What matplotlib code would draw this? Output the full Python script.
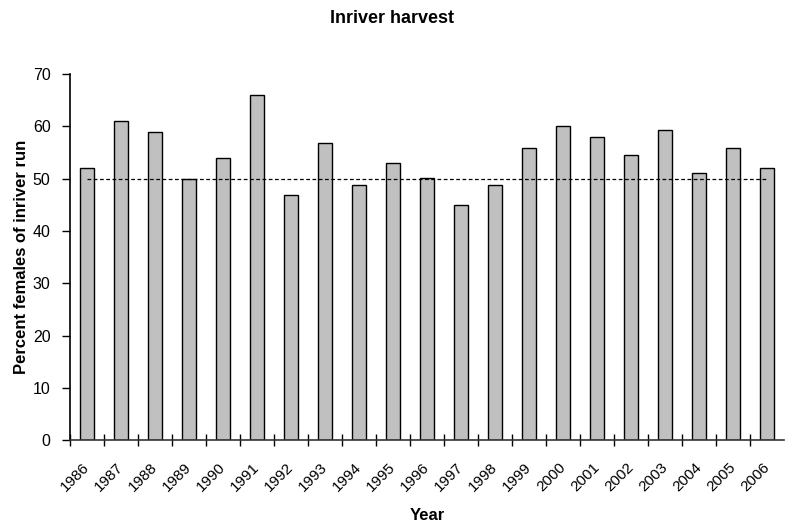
import numpy as np
import matplotlib.pyplot as plt

plt.rcParams['font.family'] = ['Liberation Sans', 'DejaVu Sans']

years = [str(y) for y in range(1986, 2007)]
pct_female = [52, 61, 58.9, 50, 54, 66, 46.9, 56.9, 48.8, 52.9, 50.1,
              44.9, 48.8, 55.9, 60, 57.9, 54.6, 59.3, 51, 55.9, 52]
ref_level = 50

fig = plt.figure(figsize=(7.85, 5.29), dpi=100)
ax = fig.add_axes([0.0892, 0.168, 0.9095, 0.692])

x = np.arange(len(years))
ax.bar(x, pct_female, width=0.42, color='#C0C0C0', edgecolor='black', linewidth=1.0, zorder=2)
ax.plot([x[0], x[-1]], [ref_level, ref_level], color='black', linestyle='--',
        linewidth=0.9, dashes=(3, 2), zorder=3)

ax.set_xlim(-0.5, len(years) - 0.5)
ax.set_ylim(0, 70)
ax.set_yticks(range(0, 71, 10))

ax.set_xticks(x)
ax.set_xticklabels(years, rotation=45, ha='right', va='center', rotation_mode='anchor', fontsize=11)
ax.set_xticks(np.arange(-0.5, len(years) - 1), minor=True)
ax.tick_params(axis='x', which='major', length=0, pad=18)
ax.tick_params(axis='x', which='minor', length=8, direction='inout', width=1)
ax.tick_params(axis='y', length=6, direction='out', width=1, labelsize=11.5, pad=8)

ax.spines['right'].set_visible(False)
ax.spines['top'].set_visible(False)
ax.spines['left'].set_linewidth(1.2)
ax.spines['bottom'].set_linewidth(1.2)
ax.spines['bottom'].set_color('#333333')

fig.text(0.5, 1 - 23 / 529, 'Inriver harvest', fontweight='bold', fontsize=13,
         ha='center', va='baseline')
ax.set_xlabel('Year', fontweight='bold', fontsize=12)
ax.xaxis.set_label_coords(0.5, -0.186)
ax.set_ylabel('Percent females of inriver run', fontweight='bold', fontsize=12, labelpad=2.5)

fig.savefig('out.png', dpi=100)
